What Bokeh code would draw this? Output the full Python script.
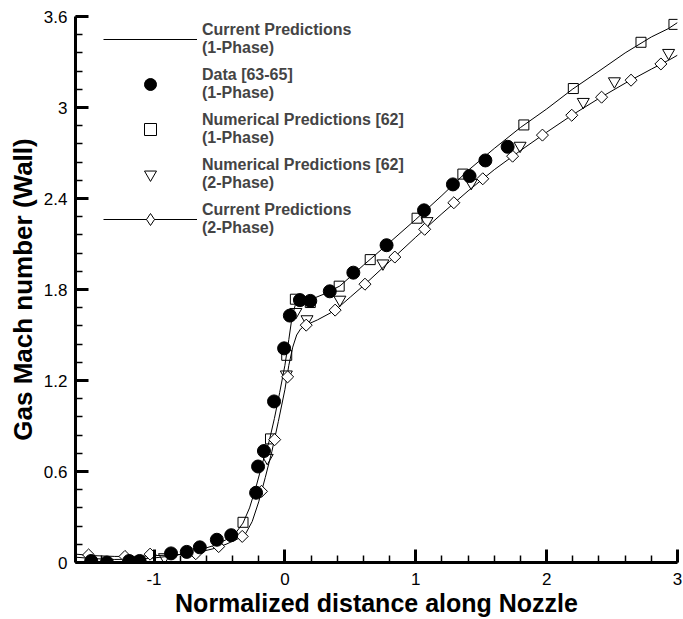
import math
from bokeh.plotting import figure
from bokeh.models import (FixedTicker, Legend, LegendItem, Title, Range1d,
                          ColumnDataSource)
from bokeh.embed import file_html
from bokeh.resources import INLINE

# ---- axis ticks ----
x_major_ticks = [-1, 0, 1, 2, 3]
x_tick_labels = ["-1", "0", "1", "2", "3"]
y_major_ticks = [0, 0.6, 1.2, 1.8, 2.4, 3.0, 3.6]
y_tick_labels = ["0", "0.6", "1.2", "1.8", "2.4", "3", "3.6"]

# ---- Current Predictions (1-Phase): solid curve ----
cur1_x = [-1.6, -1.45, -1.3, -1.15, -1.0, -0.85, -0.7, -0.55, -0.45, -0.38, -0.32,
          -0.27, -0.22, -0.17, -0.12, -0.08, -0.04, 0.0, 0.03, 0.055, 0.08, 0.11,
          0.15, 0.2, 0.3, 0.42, 0.6, 0.8, 1.0, 1.2, 1.4, 1.6, 1.8, 2.0, 2.2, 2.4,
          2.6, 2.8, 2.93, 3.0]
cur1_y = [0.035, 0.025, 0.02, 0.022, 0.03, 0.045, 0.07, 0.11, 0.15, 0.19, 0.26,
          0.36, 0.5, 0.66, 0.8, 0.95, 1.12, 1.3, 1.47, 1.62, 1.70, 1.725,
          1.728, 1.735, 1.77, 1.823, 1.96, 2.11, 2.262, 2.42, 2.585, 2.73, 2.868,
          2.99, 3.122, 3.24, 3.36, 3.465, 3.52, 3.56]

# ---- Current Predictions (2-Phase): solid curve ----
cur2_x = [-1.6, -1.45, -1.3, -1.15, -1.0, -0.85, -0.7, -0.55, -0.45, -0.35, -0.3,
          -0.25, -0.2, -0.15, -0.1, -0.05, 0.0, 0.03, 0.06, 0.09, 0.12, 0.16,
          0.25, 0.38, 0.5, 0.6, 0.8, 1.0, 1.2, 1.4, 1.6, 1.8, 2.0, 2.2, 2.4, 2.6,
          2.8, 2.95, 3.0]
cur2_y = [0.055, 0.045, 0.04, 0.04, 0.045, 0.05, 0.06, 0.09, 0.12, 0.16, 0.19,
          0.27, 0.4, 0.56, 0.73, 0.93, 1.14, 1.30, 1.42, 1.50, 1.54, 1.565,
          1.60, 1.66, 1.75, 1.825, 1.985, 2.145, 2.30, 2.45, 2.59, 2.716, 2.837,
          2.953, 3.06, 3.16, 3.253, 3.32, 3.345]

# ---- Current Predictions (2-Phase): symbols ----
cur2_mark_x = [-1.50, -1.222, -1.03, -0.681, -0.506, -0.326, -0.179, -0.078, 0.021,
               0.163, 0.384, 0.612, 0.84, 1.068, 1.291, 1.512, 1.74, 1.968, 2.192,
               2.42, 2.645, 2.873]
cur2_mark_y = [0.05, 0.04, 0.055, 0.058, 0.105, 0.172, 0.469, 0.81, 1.224,
               1.565, 1.664, 1.835, 2.014, 2.197, 2.372, 2.53, 2.679, 2.818, 2.949,
               3.068, 3.18, 3.287]

# ---- Data [63-65] (1-Phase) ----
data_x = [-1.48, -1.36, -1.19, -1.11, -0.87, -0.75, -0.65, -0.52, -0.41, -0.22,
          -0.205, -0.16, -0.083, -0.006, 0.038, 0.115, 0.194, 0.343, 0.523, 0.777,
          1.063, 1.284, 1.411, 1.532, 1.702]
data_y = [0.01, 0.0, 0.01, 0.01, 0.06, 0.07, 0.10, 0.15, 0.18, 0.46,
          0.633, 0.735, 1.062, 1.412, 1.628, 1.73, 1.725, 1.788, 1.911, 2.092,
          2.322, 2.493, 2.548, 2.651, 2.741]

# ---- Numerical Predictions [62] (1-Phase) ----
num1_x = [-0.32, -0.11, 0.014, 0.08, 0.194, 0.415, 0.652, 1.01, 1.36, 1.826,
          2.204, 2.721, 2.973]
num1_y = [0.265, 0.815, 1.366, 1.736, 1.714, 1.822, 1.997, 2.27, 2.561, 2.885,
          3.125, 3.43, 3.548]

# ---- Numerical Predictions [62] (2-Phase) ----
num2_x = [-0.92, -0.135, 0.011, 0.084, 0.169, 0.42, 0.749, 1.086, 1.424, 1.797,
          2.280, 2.518, 2.932]
num2_y = [0.035, 0.69, 1.24, 1.652, 1.604, 1.733, 1.972, 2.251, 2.503, 2.748,
          3.037, 3.173, 3.360]

FONT = "Liberation Sans"

p = figure(width=683, height=619, output_backend="svg", toolbar_location=None,
           x_range=Range1d(-1.6, 3.0), y_range=Range1d(0, 3.6),
           min_border_left=75, min_border_right=6, min_border_top=16,
           min_border_bottom=57)
p.outline_line_color = None
p.xgrid.visible = False
p.ygrid.visible = False
p.background_fill_color = "white"
p.border_fill_color = "white"

# curves
l1 = p.line(cur1_x, cur1_y, line_color="black", line_width=1)
l2 = p.line(cur2_x, cur2_y, line_color="black", line_width=1)

# symbols (hollow ones let the curve show through)
r_num1 = p.scatter(num1_x, num1_y, marker="square", size=10, fill_color=None,
                   line_color="black", line_width=1)
r_num2 = p.scatter(num2_x, num2_y, marker="inverted_triangle", size=12,
                   fill_color=None, line_color="black", line_width=1)
diamond_src = ColumnDataSource(dict(x=cur2_mark_x, y=cur2_mark_y))
r_cur2 = p.scatter("x", "y", source=diamond_src, marker="square", angle=math.pi / 4,
                   size=8.5, fill_color="white", line_color="black", line_width=1)
r_data = p.scatter(data_x, data_y, marker="circle", size=13, fill_color="black",
                   line_color="black")
# diamond symbol shown in the key (no point of its own in the plot area)
key_diamond = p.scatter(x=[float("nan")], y=[float("nan")], marker="diamond",
                        fill_color="white", line_color="black", line_width=1)

# axes
for ax in (p.xaxis[0], p.yaxis[0]):
    ax.axis_line_width = 3
    ax.axis_line_color = "black"
    ax.major_tick_in = 13
    ax.major_tick_out = 0
    ax.major_tick_line_width = 3
    ax.minor_tick_in = 7
    ax.minor_tick_out = 0
    ax.minor_tick_line_width = 1.5
    ax.major_label_text_font = FONT
    ax.major_label_text_font_size = "17px"
    ax.major_label_text_color = "black"

x_minor = [round(-1.6 + 0.2 * i, 2) for i in range(24)]
y_minor = [round(0.12 * i, 2) for i in range(31)]
p.xaxis[0].ticker = FixedTicker(ticks=x_major_ticks, minor_ticks=x_minor)
p.yaxis[0].ticker = FixedTicker(ticks=y_major_ticks, minor_ticks=y_minor)
p.xaxis[0].major_label_overrides = dict(zip(x_major_ticks, x_tick_labels))
p.yaxis[0].major_label_overrides = dict(zip(y_major_ticks, y_tick_labels))
p.xaxis[0].major_label_standoff = 10
p.yaxis[0].major_label_standoff = 8

p.xaxis[0].axis_label = "Normalized distance along Nozzle"
p.xaxis[0].axis_label_text_font = FONT
p.xaxis[0].axis_label_text_font_size = "25px"
p.xaxis[0].axis_label_text_font_style = "bold"
p.xaxis[0].axis_label_text_color = "black"
p.xaxis[0].axis_label_standoff = 1

# vertical axis title, set a little above the middle of the axis
p.add_layout(Title(text="Gas Mach number (Wall)", align="center", offset=52,
                   text_font=FONT, text_font_size="26px", text_font_style="bold",
                   text_color="black", standoff=6), "left")

legend = Legend(items=[
    LegendItem(label="Current Predictions\n(1-Phase)", renderers=[l1]),
    LegendItem(label="Data [63-65]\n(1-Phase)", renderers=[r_data]),
    LegendItem(label="Numerical Predictions [62]\n(1-Phase)", renderers=[r_num1]),
    LegendItem(label="Numerical Predictions [62]\n(2-Phase)", renderers=[r_num2]),
    LegendItem(label="Current Predictions\n(2-Phase)", renderers=[l2, key_diamond]),
], location=(28, 325))
legend.padding = 0
legend.margin = 0
legend.spacing = 9
legend.glyph_width = 94
legend.glyph_height = 30
legend.label_height = 36
legend.label_standoff = 5
legend.label_text_font = FONT
legend.label_text_font_size = "16px"
legend.label_text_font_style = "bold"
legend.label_text_line_height = 1.1
legend.border_line_color = None
legend.background_fill_alpha = 0
p.add_layout(legend)

open("out.html", "w").write(file_html(p, INLINE))
